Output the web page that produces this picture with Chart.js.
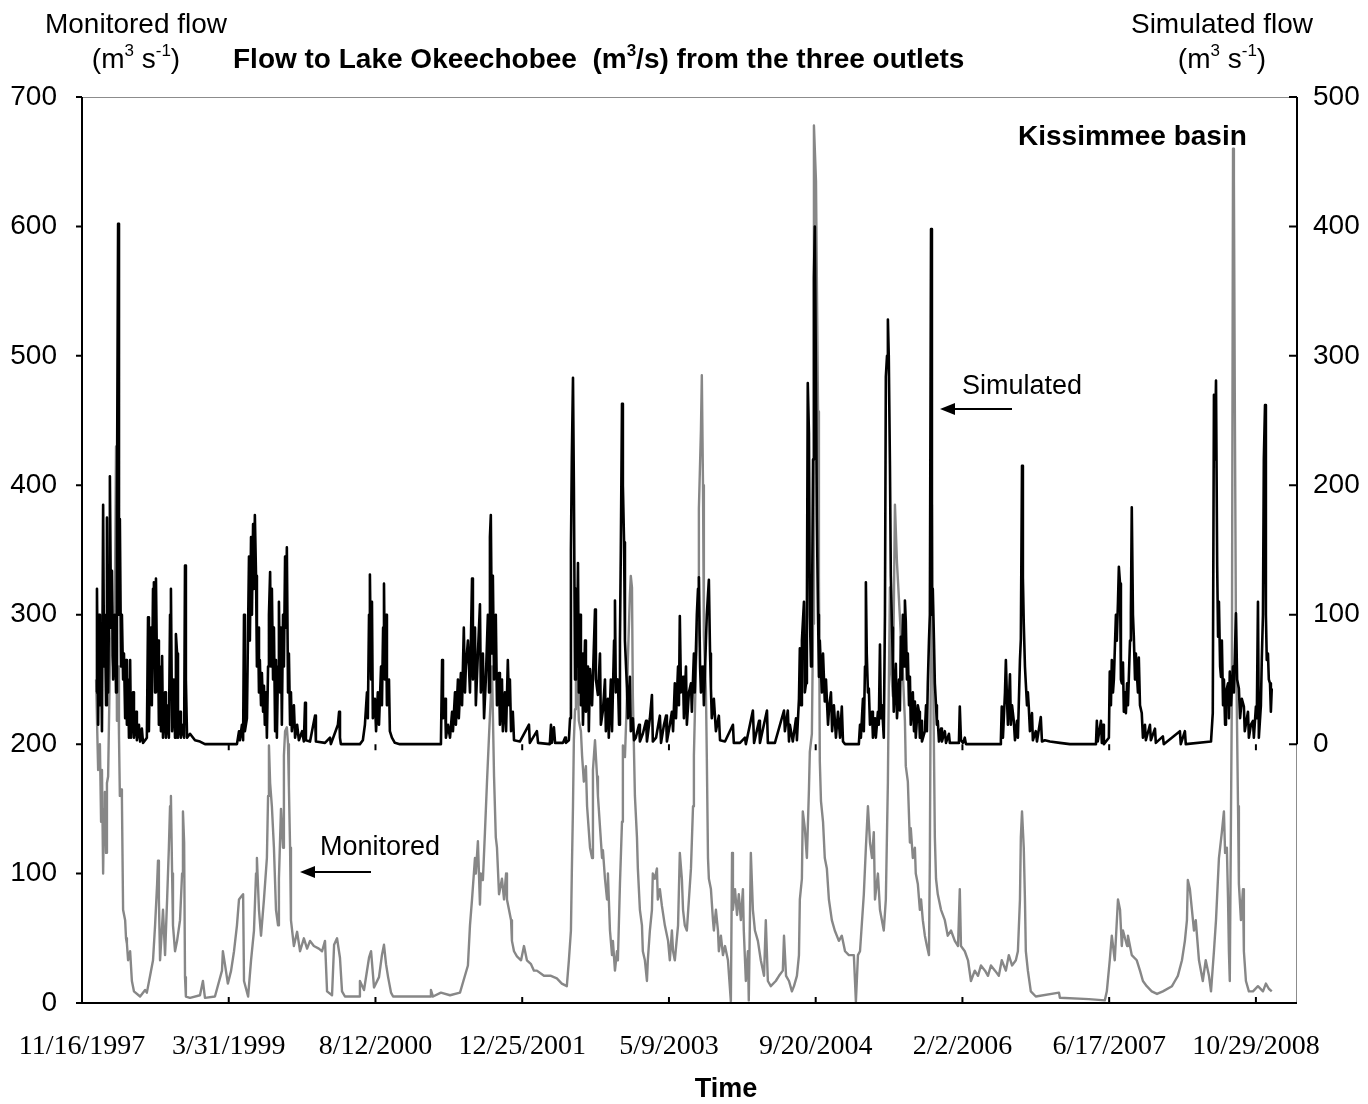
<!DOCTYPE html>
<html>
<head>
<meta charset="utf-8">
<title>Flow to Lake Okeechobee</title>
<script src="https://cdn.jsdelivr.net/npm/chart.js@4.4.0/dist/chart.umd.min.js"></script>
<style>
  html, body { margin: 0; padding: 0; background: #fff; }
  #wrap { width: 1368px; height: 1104px; }
</style>
</head>
<body>
<div id="wrap"><canvas id="flowChart" width="1368" height="1104"></canvas></div>
<script>
// time is counted in days from 11/16/1997 (first date of the time axis)
const simDays = [
  48,51,55,58,61,65,68,72,75,78,
  82,85,89,92,95,99,102,106,112,116,
  119,123,126,129,133,136,140,143,147,150,
  153,157,160,164,167,174,177,184,187,194,
  198,204,208,215,221,225,228,232,235,238,
  242,245,249,252,256,259,262,266,269,273,
  276,283,286,293,296,300,303,307,313,317,
  320,324,327,334,337,344,348,351,354,358,
  368,385,402,419,528,535,538,545,549,552,
  555,562,569,572,576,579,583,586,589,593,
  596,600,603,606,610,613,617,620,623,627,
  630,634,637,641,644,647,651,654,658,661,
  664,668,671,675,678,681,685,688,692,695,
  698,702,705,709,712,715,722,726,733,739,
  750,756,760,763,777,794,797,828,845,848,
  872,876,879,882,947,957,964,971,974,978,
  981,985,988,991,998,1002,1008,1012,1019,1022,
  1026,1029,1032,1036,1039,1046,1049,1056,1066,1083,
  1223,1227,1230,1237,1240,1247,1254,1261,1264,1271,
  1274,1281,1284,1291,1295,1301,1305,1308,1315,1322,
  1329,1332,1339,1342,1349,1356,1359,1366,1370,1376,
  1383,1387,1390,1393,1397,1400,1404,1410,1414,1421,
  1424,1431,1434,1441,1445,1451,1455,1458,1462,1468,
  1472,1492,1523,1526,1550,1554,1594,1598,1601,1608,
  1612,1639,1646,1649,1659,1663,1666,1669,1673,1676,
  1680,1683,1686,1690,1693,1697,1700,1704,1707,1714,
  1717,1724,1727,1731,1738,1748,1751,1758,1765,1768,
  1775,1782,1785,1792,1795,1802,1806,1813,1816,1819,
  1826,1830,1833,1836,1840,1843,1847,1850,1857,1860,
  1867,1870,1877,1881,1887,1898,1901,1911,1922,1925,
  1935,1942,1945,1956,1969,1973,1983,1990,1993,2003,
  2010,2014,2020,2024,2031,2034,2037,2041,2048,2051,
  2058,2061,2068,2075,2078,2085,2088,2095,2099,2102,
  2106,2109,2116,2119,2126,2129,2136,2140,2143,2146,
  2153,2160,2170,2174,2191,2218,2221,2242,2259,2262,
  2286,2290,2307,2310,2334,2337,2361,2392,2395,2405,
  2409,2412,2422,2433,2436,2443,2446,2450,2453,2460,
  2463,2467,2470,2473,2477,2480,2484,2487,2491,2494,
  2497,2501,2504,2508,2511,2514,2521,2525,2531,2535,
  2542,2546,2552,2556,2562,2569,2576,2583,2589,2593,
  2600,2647,2651,2654,2661,2664,2668,2671,2674,2678,
  2681,2685,2692,2695,2702,2705,2712,2715,2719,2722,
  2726,2732,2736,2739,2743,2746,2749,2753,2756,2760,
  2763,2766,2773,2777,2784,2787,2790,2794,2797,2801,
  2804,2807,2811,2814,2818,2821,2824,2831,2835,2838,
  2841,2848,2852,2855,2859,2862,2872,2876,2879,2882,
  2886,2889,2893,2896,2899,2903,2906,2910,2913,2916,
  2920,2927,2930,2940,2944,2954,2957,2988,2991,2995,
  3002,3008,3012,3128,3131,3134,3138,3145,3148,3152,
  3155,3162,3165,3169,3175,3179,3186,3189,3196,3199,
  3203,3206,3209,3213,3216,3220,3223,3226,3230,3237,
  3240,3250,3254,3267,3271,3281,3298,3332,3366,3455,
  3458,3461,3472,3475,3479,3482,3499,3502,3506,3509,
  3513,3516,3523,3526,3530,3533,3537,3540,3543,3547,
  3550,3554,3557,3561,3564,3571,3574,3577,3581,3584,
  3588,3591,3594,3598,3601,3605,3611,3615,3622,3625,
  3639,3642,3656,3659,3683,3686,3741,3744,3758,3761,
  3847,3853,3857,3860,3864,3868,3871,3874,3878,3881,
  3884,3888,3891,3895,3898,3905,3908,3911,3915,3922,
  3925,3932,3936,3942,3946,3952,3959,3962,3973,3976,
  3983,3990,3993,4000,4003,4007,4010,4017,4020,4024,
  4027,4031,4034,4037,4041,4044,4048,4051,4054
];
// simulated flow, m3/s (right axis)
const simFlow = [
  40,120,15,100,30,90,10,185,60,100,
  30,175,40,100,207,90,134,50,100,40,
  180,402,100,174,60,100,50,70,20,65,
  15,50,5,65,5,40,5,25,3,15,
  2,12,1,3,5,98,10,70,90,30,
  120,125,40,128,50,80,15,60,10,68,
  5,40,5,30,5,100,120,10,50,5,
  85,70,5,25,5,15,5,138,50,5,
  8,3,2,0,0,10,3,15,3,100,
  10,20,145,80,160,100,170,120,177,130,
  60,90,40,65,30,55,25,45,15,40,
  5,60,100,133,60,120,50,90,10,65,
  5,60,110,40,90,15,100,60,145,90,
  152,40,70,15,40,10,30,5,15,3,
  10,2,32,3,2,22,2,1,5,0,
  15,25,5,0,0,3,15,40,20,100,
  131,50,110,20,35,10,40,15,60,30,
  90,124,50,100,30,50,10,5,1,0,
  0,65,20,35,5,15,5,25,10,40,
  15,50,20,55,30,90,40,60,80,40,
  128,50,90,30,70,108,40,70,20,50,
  100,40,160,177,70,130,50,100,30,55,
  15,50,10,40,10,65,30,50,10,25,
  3,2,15,1,10,1,0,15,1,13,
  1,1,5,1,3,20,150,220,283,200,
  50,120,60,140,40,100,30,70,15,80,
  25,60,10,58,30,104,50,38,70,15,
  26,50,10,35,5,50,10,80,111,40,
  50,15,80,150,263,200,156,80,43,20,
  52,10,20,3,5,15,2,8,18,2,
  20,38,2,5,22,1,15,22,2,15,
  25,10,47,20,60,30,99,40,52,20,
  60,15,40,47,25,70,40,100,120,129,
  60,40,60,30,80,100,127,70,43,20,
  35,10,22,3,2,15,1,1,5,0,
  26,1,18,1,26,1,1,26,10,26,
  2,15,2,20,3,35,74,30,80,110,
  40,47,100,279,240,100,60,90,220,360,
  400,280,174,100,52,80,40,70,33,50,
  15,29,40,10,30,5,25,5,29,2,
  0,0,15,5,35,10,60,125,70,40,
  43,15,25,5,20,5,25,15,77,20,
  30,5,100,284,300,328,300,215,130,90,
  60,25,62,20,50,26,83,50,100,60,
  111,95,50,70,30,52,15,40,10,33,
  5,30,25,5,18,2,10,30,10,47,
  80,100,398,100,120,80,47,30,15,18,
  2,12,2,10,1,8,1,1,29,3,
  1,5,0,0,3,29,5,40,65,33,
  15,54,15,30,18,3,18,5,65,81,
  215,129,93,60,47,30,40,29,10,24,
  3,10,2,21,2,3,2,1,0,0,
  18,2,18,1,15,0,5,56,30,65,
  40,50,100,80,110,137,124,50,47,63,
  25,40,24,47,30,80,101,183,100,83,
  50,70,56,40,67,30,24,5,15,3,
  15,3,12,1,6,0,10,0,10,0,
  2,24,270,220,281,138,83,110,60,52,
  80,30,50,15,40,47,20,56,30,60,
  40,101,50,43,20,35,29,10,25,5,
  15,18,5,29,20,110,5,30,65,100,
  220,262,100,65,70,50,47,25,43
];
const monDays = [
  48,55,61,65,68,72,75,78,82,85,
  89,95,102,106,112,116,119,123,126,129,
  133,136,140,147,150,153,157,164,170,177,
  198,215,221,232,242,249,256,259,262,266,
  273,276,283,290,296,300,303,307,310,317,
  324,334,341,344,348,351,354,368,402,412,
  419,453,477,480,487,497,508,518,528,535,
  542,549,552,566,576,586,593,596,603,610,
  620,630,634,637,641,647,654,661,668,671,
  678,685,688,692,698,702,705,709,712,722,
  733,743,756,767,777,790,807,818,828,835,
  852,859,869,879,886,896,944,947,961,978,
  985,995,1012,1022,1029,1036,1043,1053,1060,1186,
  1189,1196,1223,1254,1288,1315,1322,1329,1339,1342,
  1349,1356,1359,1366,1373,1380,1387,1393,1397,1404,
  1410,1414,1421,1431,1438,1445,1448,1462,1465,1472,
  1482,1496,1506,1516,1530,1540,1550,1574,1598,1618,
  1635,1652,1659,1666,1669,1673,1676,1680,1683,1686,
  1690,1693,1700,1704,1710,1717,1721,1731,1738,1741,
  1748,1755,1758,1772,1775,1782,1789,1792,1799,1806,
  1809,1816,1823,1826,1833,1840,1843,1850,1857,1860,
  1867,1870,1874,1877,1884,1891,1894,1901,1908,1911,
  1918,1925,1928,1935,1942,1945,1952,1959,1962,1969,
  1976,1986,1997,2003,2010,2014,2020,2031,2037,2044,
  2048,2054,2061,2068,2075,2082,2085,2092,2099,2102,
  2109,2112,2116,2119,2126,2129,2133,2136,2143,2150,
  2153,2160,2167,2170,2177,2184,2191,2201,2211,2215,
  2218,2225,2232,2238,2245,2252,2255,2262,2269,2272,
  2279,2286,2293,2303,2313,2324,2330,2337,2347,2364,
  2375,2388,2392,2399,2409,2419,2426,2436,2443,2446,
  2453,2456,2463,2470,2477,2480,2487,2491,2494,2501,
  2508,2511,2514,2518,2525,2531,2538,2545,2555,2565,
  2579,2589,2600,2613,2630,2637,2644,2651,2664,2671,
  2678,2685,2692,2698,2702,2712,2719,2732,2739,2746,
  2749,2753,2756,2763,2770,2777,2787,2790,2797,2804,
  2807,2814,2821,2824,2831,2838,2841,2848,2855,2859,
  2865,2872,2879,2886,2889,2893,2896,2899,2906,2910,
  2916,2927,2940,2950,2961,2974,2985,2991,2995,3008,
  3019,3029,3042,3053,3063,3077,3087,3097,3111,3124,
  3134,3148,3158,3169,3182,3189,3196,3199,3203,3209,
  3213,3216,3223,3233,3250,3329,3332,3431,3485,3492,
  3502,3509,3519,3530,3537,3543,3547,3561,3564,3577,
  3594,3605,3615,3628,3645,3663,3683,3714,3724,3734,
  3748,3758,3765,3768,3775,3782,3789,3795,3806,3819,
  3829,3840,3847,3857,3864,3874,3884,3891,3895,3901,
  3905,3908,3911,3918,3922,3925,3928,3932,3939,3942,
  3949,3956,3959,3966,3976,3990,4007,4024,4034,4044,4054
];
// monitored flow, m3/s (left axis)
const monFlow = [
  250,180,200,140,180,100,150,163,116,170,
  175,260,293,260,310,430,218,260,207,160,
  165,158,72,64,50,46,33,40,17,9,
  5,10,8,21,33,60,92,110,80,33,
  60,72,37,80,120,152,160,100,60,40,
  48,64,100,148,124,20,5,4,6,17,
  4,5,25,40,30,15,25,40,60,80,
  82,84,17,5,33,56,100,112,72,52,
  80,112,160,199,170,152,120,72,60,96,
  150,120,191,210,213,200,167,120,64,44,
  55,40,50,42,48,44,42,40,48,9,
  6,45,50,35,9,5,5,17,10,35,
  40,12,20,37,45,30,20,8,5,5,
  10,5,8,6,8,29,60,80,112,100,
  125,76,100,95,132,171,207,237,260,175,
  128,120,84,96,80,100,80,64,48,40,
  36,33,44,33,30,25,25,21,21,19,
  15,13,33,56,100,152,203,227,246,285,
  240,218,210,191,171,183,152,120,112,180,
  203,175,160,112,118,96,80,100,56,37,
  48,25,40,33,92,140,199,190,237,265,
  316,330,321,237,160,128,104,72,60,40,
  33,17,33,56,72,100,96,104,80,88,
  75,60,48,33,56,40,33,60,116,96,
  72,60,56,80,104,152,191,260,293,382,
  443,485,400,284,241,190,112,96,88,64,
  56,72,56,40,52,37,44,33,1,116,
  72,88,68,84,64,88,56,17,40,2,
  116,72,56,48,33,21,64,17,13,17,
  21,25,52,21,17,9,13,21,37,80,
  96,148,135,112,165,194,208,293,678,635,
  457,330,187,156,140,112,104,80,64,56,
  48,52,40,37,37,1,37,40,84,120,
  152,124,112,132,80,100,72,56,80,171,
  241,321,260,237,385,340,298,284,255,218,
  183,171,124,135,112,120,100,92,72,80,
  64,52,44,37,112,300,385,284,128,96,
  84,72,64,52,56,48,44,88,44,40,
  33,17,25,21,29,25,21,29,25,21,
  33,25,37,29,33,40,80,128,148,120,
  80,40,25,9,5,8,4,3,2,9,
  33,52,33,80,72,44,56,44,52,37,
  33,25,17,13,9,7,9,13,17,21,
  33,48,64,95,88,72,56,64,33,17,
  33,21,9,40,64,112,132,148,116,120,
  80,40,17,237,660,636,471,284,152,92,
  64,88,40,17,9,9,13,9,15,11,9
];

const axisStart = Date.UTC(1997, 10, 16);
const axisEnd = 4140;      // days shown on the time axis
const dayStep = 500;       // spacing of the date labels

function dayLabel(v) {
  const d = new Date(axisStart + v * 86400000);
  return (d.getUTCMonth() + 1) + '/' + d.getUTCDate() + '/' + d.getUTCFullYear();
}

const sans = "'Liberation Sans', Arial, sans-serif";
const serif = "'Liberation Serif', 'Times New Roman', serif";

// text with raised pieces, e.g. m3 s-1
function drawRich(c, parts, x, y, align, size, weight) {
  const supSize = Math.round(size * 0.62);
  let total = 0;
  const widths = parts.map(p => {
    c.font = weight + ' ' + (p[1] ? supSize : size) + 'px ' + sans;
    const w = c.measureText(p[0]).width;
    total += w;
    return w;
  });
  let px = align === 'center' ? x - total / 2 : x;
  c.textAlign = 'left';
  c.textBaseline = 'middle';
  parts.forEach((p, i) => {
    c.font = weight + ' ' + (p[1] ? supSize : size) + 'px ' + sans;
    c.fillText(p[0], px, p[1] ? y - size * 0.32 : y);
    px += widths[i];
  });
}

function arrowLeft(c, x1, x2, y) {
  c.beginPath();
  c.moveTo(x1, y);
  c.lineTo(x2 + 12, y);
  c.lineWidth = 2;
  c.stroke();
  c.beginPath();
  c.moveTo(x2, y);
  c.lineTo(x2 + 15, y - 6);
  c.lineTo(x2 + 15, y + 6);
  c.closePath();
  c.fill();
}

const extras = {
  id: 'extras',
  afterDraw(chart) {
    const c = chart.ctx;
    const a = chart.chartArea;
    const sx = chart.scales.x, sy = chart.scales.y, sy2 = chart.scales.y2;
    const zero2 = sy2.getPixelForValue(0);
    c.save();
    c.strokeStyle = '#8c8c8c';
    c.lineWidth = 1;
    c.strokeRect(a.left + 0.5, a.top + 0.5, a.right - a.left - 1, a.bottom - a.top);

    c.strokeStyle = '#000';
    c.lineWidth = 2;
    c.beginPath();
    c.moveTo(a.left, a.top);
    c.lineTo(a.left, a.bottom);
    c.lineTo(a.right, a.bottom);
    c.moveTo(a.right, a.top);
    c.lineTo(a.right, zero2);
    for (let v = 0; v <= 700; v += 100) {
      const py = sy.getPixelForValue(v);
      c.moveTo(a.left - 6, py);
      c.lineTo(a.left, py);
    }
    for (let v = 0; v <= 500; v += 100) {
      const py = sy2.getPixelForValue(v);
      c.moveTo(a.right - 8, py);
      c.lineTo(a.right, py);
    }
    for (let d = 0; d <= axisEnd; d += dayStep) {
      const px = sx.getPixelForValue(d);
      c.moveTo(px, a.bottom);
      c.lineTo(px, a.bottom - 6);
      c.moveTo(px, zero2);
      c.lineTo(px, zero2 + 6);
    }
    c.stroke();

    c.fillStyle = '#000';
    const unit = [['(m', false], ['3', true], [' s', false], ['-1', true], [')', false]];
    drawRich(c, [['Monitored flow', false]], 136, 25, 'center', 28, 'normal');
    drawRich(c, unit, 136, 60, 'center', 28, 'normal');
    drawRich(c, [['Simulated flow', false]], 1222, 25, 'center', 28, 'normal');
    drawRich(c, unit, 1222, 60, 'center', 28, 'normal');
    drawRich(c, [['Flow to Lake Okeechobee  (m', false], ['3', true], ['/s) from the three outlets', false]],
      233, 60, 'left', 28, 'bold');
    drawRich(c, [['Kissimmee basin', false]], 1018, 137, 'left', 28, 'bold');
    drawRich(c, [['Simulated', false]], 962, 387, 'left', 27, 'normal');
    drawRich(c, [['Monitored', false]], 320, 848, 'left', 27, 'normal');
    drawRich(c, [['Time', false]], 726, 1090, 'center', 27, 'bold');
    arrowLeft(c, 1012, 940, 409);
    arrowLeft(c, 371, 300, 872);
    c.restore();
  }
};

document.addEventListener('DOMContentLoaded', () => {
  const ctx = document.getElementById('flowChart').getContext('2d');
  const simPoints = simDays.map((d, i) => ({ x: d, y: simFlow[i] }));
  const monPoints = monDays.map((d, i) => ({ x: d, y: monFlow[i] }));

  new Chart(ctx, {
    type: 'line',
    data: {
      datasets: [{
        label: 'Simulated',
        data: simPoints,
        yAxisID: 'y2',
        borderColor: '#000',
        borderWidth: 2.6,
        borderJoinStyle: 'round',
        pointRadius: 0,
        tension: 0,
        order: 0
      }, {
        label: 'Monitored',
        data: monPoints,
        yAxisID: 'y',
        borderColor: '#878787',
        borderWidth: 2.4,
        borderJoinStyle: 'round',
        pointRadius: 0,
        tension: 0,
        order: 1
      }]
    },
    options: {
      responsive: false,
      animation: false,
      devicePixelRatio: 1,
      layout: { padding: { top: 97, left: 0, right: 0, bottom: 0 } },
      plugins: { legend: { display: false }, tooltip: { enabled: false } },
      scales: {
        x: {
          type: 'linear',
          min: 0,
          max: axisEnd,
          afterBuildTicks: s => {
            const t = [];
            for (let d = 0; d <= axisEnd; d += dayStep) t.push({ value: d });
            s.ticks = t;
          },
          ticks: {
            callback: v => dayLabel(v),
            font: { family: serif, size: 28 },
            color: '#000',
            padding: 27,
            maxRotation: 0,
            autoSkip: false
          },
          grid: { display: false, drawTicks: false },
          border: { display: false },
          afterFit: s => {
            s.height = 101;
            s.paddingLeft = 0;
            s.paddingRight = 0;
          }
        },
        y: {
          position: 'left',
          min: 0,
          max: 700,
          ticks: { stepSize: 100, color: '#000', font: { family: sans, size: 28 }, padding: 25 },
          grid: { display: false, drawTicks: false },
          border: { display: false },
          afterFit: s => { s.width = 82; }
        },
        y2: {
          position: 'right',
          min: -200,
          max: 500,
          ticks: {
            stepSize: 100,
            color: '#000',
            font: { family: sans, size: 28 },
            padding: 16,
            callback: v => (v >= 0 ? v : '')
          },
          grid: { display: false, drawTicks: false },
          border: { display: false },
          afterFit: s => { s.width = 71; }
        }
      }
    },
    plugins: [extras]
  });
});
</script>
</body>
</html>
